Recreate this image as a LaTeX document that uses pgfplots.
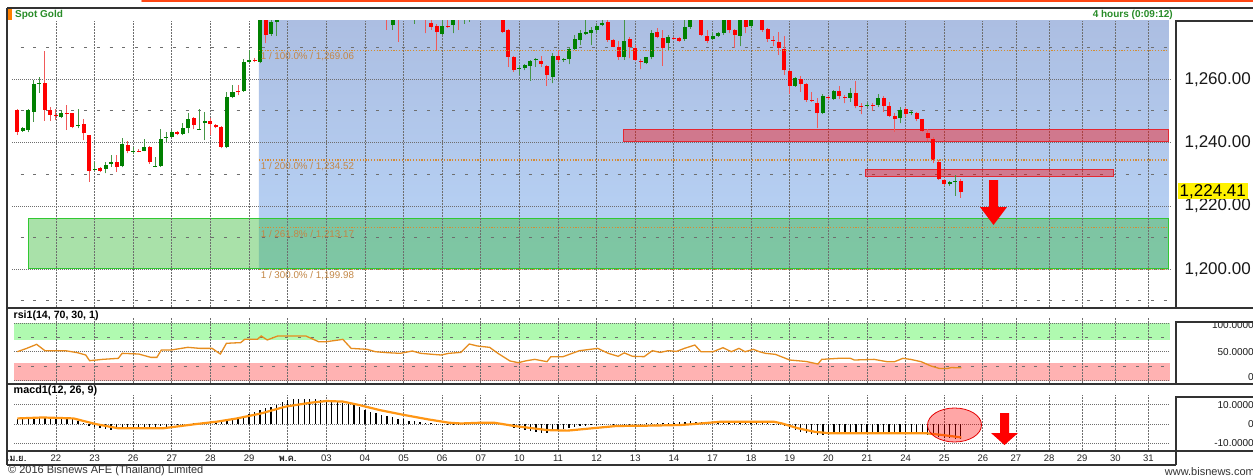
\documentclass[border=0pt]{standalone}
\usepackage{fontspec}
\setmainfont{Liberation Sans}
\newfontfamily\thaifont[Script=Thai]{Loma}
\usepackage{pgfplots}
\pgfplotsset{compat=1.18}
\usepackage{pgfplotstable}

\definecolor{candleG}{RGB}{0,128,0}
\definecolor{candleR}{RGB}{255,0,0}
\definecolor{wickG}{RGB}{70,150,70}
\definecolor{wickR}{RGB}{240,90,90}
\definecolor{blueTop}{RGB}{172,190,226}
\definecolor{blueBot}{RGB}{184,212,247}
\definecolor{zoneG}{RGB}{42,180,42}
\definecolor{zoneGline}{RGB}{50,200,50}
\definecolor{zoneRline}{RGB}{228,40,50}
\definecolor{fibC}{RGB}{214,140,50}
\definecolor{fibT}{RGB}{195,135,70}
\definecolor{rsiC}{RGB}{230,140,30}
\definecolor{sigC}{RGB}{255,150,20}
\definecolor{hdrG}{RGB}{40,140,40}
\definecolor{frameC}{RGB}{50,50,50}
\definecolor{gridC}{RGB}{110,110,110}
\definecolor{rsiGreen}{RGB}{176,250,176}
\definecolor{rsiRed}{RGB}{255,178,178}
\definecolor{topRed}{RGB}{255,70,20}

% candles: bar index, open, high, low, close
\pgfplotstableread{
i o h l c
1 1243.7 1244.8 1243.4 1244.5
2 1244.0 1250.5 1243.3 1250.3
3 1249.8 1259.8 1246.6 1258.5
4 1258.6 1260.6 1255.8 1258.9
8 1248.2 1250.3 1247.7 1249.5
11 1245.4 1250.5 1244.5 1245.7
14 1231.4 1234.0 1231.1 1231.7
16 1231.6 1234.0 1230.3 1233.0
17 1233.3 1236.1 1232.4 1234.0
19 1232.7 1241.4 1232.2 1239.6
21 1237.0 1238.5 1236.4 1237.3
23 1237.4 1241.0 1237.2 1238.6
25 1232.4 1235.4 1232.2 1232.7
26 1232.7 1244.2 1232.4 1241.0
27 1241.5 1243.5 1240.3 1241.8
28 1241.9 1244.0 1241.7 1243.4
30 1242.7 1246.3 1242.4 1244.5
31 1244.5 1249.3 1242.9 1247.4
33 1244.1 1250.5 1244.0 1244.4
34 1246.1 1249.8 1240.8 1246.7
38 1238.5 1256.1 1238.2 1254.3
39 1254.5 1258.2 1254.0 1256.1
41 1256.3 1266.3 1256.1 1265.5
42 1265.3 1269.3 1265.0 1266.1
44 1265.6 1284.5 1265.0 1283.0
46 1274.3 1280.0 1273.7 1278.2
47 1278.2 1283.0 1273.7 1281.5
48 1281.5 1286 1280 1285
49 1285 1290 1284 1289
51 1286 1292 1285 1291
52 1291 1296 1290 1295
55 1287 1292 1286 1291
56 1291 1296 1290 1294
60 1283 1287 1282 1286
62 1284 1288 1283 1287
65 1282 1286 1281 1285
68 1277.1 1281 1275.6 1280
70 1280 1284 1279 1283
72 1279.5 1283 1277.5 1282
77 1274.3 1279 1274.0 1276.9
79 1277.1 1280 1274.5 1278.8
81 1279 1281 1277.5 1280
82 1280 1282 1278.2 1281
84 1280 1284 1279 1283
87 1280 1282 1279 1281
91 1263.4 1264.5 1261.4 1263.7
92 1263.5 1264.7 1262.9 1264.5
93 1264.3 1266.1 1259.6 1265.8
94 1266.0 1266.6 1264.0 1266.3
97 1260.8 1268.2 1258.7 1267.4
99 1266.0 1266.6 1265.6 1266.3
100 1266.3 1270.3 1264.8 1269.5
101 1269.5 1274.0 1269.3 1272.6
102 1272.4 1275.4 1270.8 1274.5
103 1274.2 1279.5 1274.0 1275.0
104 1274.5 1276.6 1270.8 1275.6
105 1275.6 1277.5 1274.5 1276.8
106 1277.1 1278.6 1276.8 1277.9
110 1266.9 1279.5 1266.1 1272.2
114 1265.0 1267.1 1264.8 1266.9
115 1266.9 1275.4 1266.3 1274.7
118 1271.6 1274.0 1269.3 1273.5
121 1272.6 1279.5 1272.2 1276.4
122 1276.6 1281 1276.0 1279.5
123 1279.5 1283 1279 1282
126 1272.6 1275.0 1272.4 1273.7
127 1273.7 1275.0 1273.5 1274.7
128 1274.7 1280 1274.0 1279.5
131 1273.7 1281 1270.5 1280
133 1276.8 1280 1276.1 1279.5
141 1257.9 1260.6 1257.7 1260.3
146 1249.5 1255.4 1249.0 1254.7
148 1253.8 1256.6 1253.5 1256.4
151 1254.2 1257.4 1252.9 1255.8
154 1251.7 1252.8 1251.2 1252.0
156 1251.9 1255.4 1251.2 1254.0
160 1247.7 1251.2 1246.1 1250.3
162 1249.3 1250.0 1248.7 1249.6
169 1226.9 1228.0 1226.4 1227.7
170 1227.6 1229.8 1223.2 1227.9
}\greenC

\pgfplotstableread{
i o h l c
0 1250.3 1250.5 1242.5 1243.5
5 1258.7 1269.0 1246.9 1250.3
6 1250.3 1251.4 1246.9 1248.7
7 1248.8 1250.5 1247.1 1248.4
9 1249.4 1251.9 1244.0 1249.1
10 1249.3 1249.5 1244.5 1245.0
12 1245.9 1247.4 1240.8 1242.9
13 1242.3 1242.4 1227.7 1231.0
15 1232.1 1232.4 1230.7 1231.1
18 1233.8 1236.1 1230.8 1232.4
20 1239.3 1240.6 1236.6 1237.4
22 1237.5 1237.9 1236.9 1237.2
24 1238.7 1238.9 1233.3 1233.8
29 1243.4 1243.6 1242.4 1242.7
32 1247.8 1248.0 1244.2 1245.5
35 1246.8 1247.7 1242.4 1245.8
36 1245.6 1245.9 1244.5 1244.8
37 1245.0 1245.2 1238.2 1238.7
40 1256.2 1258.2 1255.0 1255.9
43 1266.0 1266.6 1265.3 1265.7
45 1284.0 1286.0 1271.4 1274.0
50 1289 1291 1285 1286
53 1295 1297 1290 1291
54 1291 1292 1286 1287
57 1294 1296 1289 1290
58 1290 1291 1284 1285
59 1285 1287 1282 1283
61 1286 1288 1283 1284
63 1287 1289 1284 1285
64 1285 1286 1281 1282
66 1285 1287 1282 1283
67 1283 1285 1275.6 1281
69 1282 1284 1271.9 1280
71 1283 1285 1280 1281
73 1282 1284 1279.5 1281
74 1282 1283 1274.5 1279
75 1277.9 1279 1275.6 1276.6
76 1276.8 1277.5 1269.0 1275.0
78 1276.9 1278.7 1276.3 1276.6
80 1281 1282 1275.6 1279
83 1281 1283 1279 1280
85 1283 1285 1280 1281
86 1281 1282 1279 1280
88 1281 1282 1274.7 1275.0
89 1275.6 1276.0 1264.0 1267.1
90 1267.1 1267.3 1262.4 1262.9
95 1265.8 1267.4 1264.0 1264.8
96 1264.2 1264.5 1258.0 1261.4
98 1267.4 1269.3 1265.6 1266.1
107 1278.2 1278.6 1271.9 1272.4
108 1272.4 1272.6 1270.1 1270.3
109 1270.1 1272.2 1266.1 1266.9
111 1272.6 1273.5 1266.6 1270.1
112 1269.8 1270.8 1265.8 1266.1
113 1265.7 1266.3 1263.2 1265.4
116 1275.0 1276.1 1272.9 1273.3
117 1272.9 1275.4 1264.3 1269.8
119 1273.0 1273.5 1272.4 1272.7
120 1273.1 1273.5 1271.9 1272.2
124 1280 1281 1273.8 1274.0
125 1273.7 1275.4 1271.4 1272.2
129 1280 1281 1274.5 1275.4
130 1275.4 1275.8 1270.0 1274.0
132 1281 1282 1274.5 1276.6
134 1281 1282 1279 1280
135 1280 1281 1275.0 1275.4
136 1275.8 1276.1 1271.9 1272.6
137 1272.5 1273.7 1270.5 1272.2
138 1271.9 1275.0 1267.7 1270.0
139 1269.5 1273.7 1261.4 1262.9
140 1262.7 1262.9 1255.4 1257.9
142 1260.0 1261.0 1256.1 1258.5
143 1258.5 1258.7 1252.9 1253.3
144 1253.4 1256.1 1252.9 1253.1
145 1252.6 1254.2 1244.5 1249.3
147 1254.3 1254.7 1253.3 1254.0
149 1256.3 1258.0 1253.9 1254.8
150 1254.4 1255.0 1252.4 1254.1
152 1255.6 1259.3 1250.8 1251.7
153 1251.7 1252.4 1248.9 1251.4
155 1252.0 1252.4 1250.1 1251.7
157 1254.0 1254.7 1249.8 1251.6
158 1251.6 1252.9 1248.2 1248.4
159 1248.5 1249.5 1243.5 1247.5
161 1250.6 1251.2 1248.2 1249.0
163 1249.5 1249.8 1246.8 1247.4
164 1247.4 1247.6 1243.5 1243.7
165 1242.9 1244.2 1240.6 1241.4
166 1241.2 1241.7 1233.5 1234.5
167 1234.0 1234.5 1228.2 1228.4
168 1228.2 1228.4 1226.4 1226.9
171 1227.9 1228.4 1222.6 1224.4
}\redC

\tikzset{
  hline/.style={gridC, line width=0.8pt, dash pattern=on 1pt off 1pt},
  sline/.style={gridC, line width=1pt, dash pattern=on 3pt off 9.7pt},
  vline/.style={gridC, line width=0.8pt, dash pattern=on 2pt off 1pt},
}
\pgfplotsset{
  panel/.style={
    scale only axis, width=1169pt,
    xmin=-1.87, xmax=210,
    axis line style={draw=none},
    tick style={draw=none},
    major tick length=0pt, minor tick length=0pt,
    xtick={7,14,21,28,35,42,49,56,63,70,77,84,91,98,105,112,119,126,133,140,147,154,161,168,175,181,187,193,199,205},
    xticklabels={},
  },
  wick/.style={only marks, mark=*, mark size=0pt, mark options={draw=none, fill=none}, forget plot,
    error bars/.cd, y dir=plus, y explicit, error mark=none,
    error bar style={draw=#1, line width=1pt, solid}},
  body/.style={only marks, mark=*, mark size=0pt, mark options={draw=none, fill=none}, forget plot,
    error bars/.cd, y dir=plus, y explicit, error mark=none,
    error bar style={draw=#1, line width=4pt, solid}},
}

\begin{document}
\begin{tikzpicture}[x=1pt,y=1pt]
\useasboundingbox (0,0) rectangle (1253,475);
\fill[white] (0,0) rectangle (1253,475);

% ---------------- price panel ----------------
\begin{axis}[panel, at={(7pt,168pt)}, anchor=south west, height=286pt,
  ymin=1188.1, ymax=1278.4,
  ytick={1200,1220,1240,1260}, yticklabel pos=right,
  yticklabel style={anchor=east, xshift=75pt, inner sep=0pt, text=black!90,
    font=\fontsize{17}{17}\selectfont,
    /pgf/number format/fixed, /pgf/number format/fixed zerofill,
    /pgf/number format/precision=2, /pgf/number format/1000 sep={,},
    /pgf/number format/assume math mode=true},
]
\shade[top color=blueTop, bottom color=blueBot] (axis cs:43.8,1200.0) rectangle (axis cs:208.7,1278.4);
\fill[zoneG, fill opacity=0.4] (axis cs:2,1200.1) rectangle (axis cs:208.7,1216.1);
\draw[zoneGline, line width=1pt] (axis cs:2,1200.1) rectangle (axis cs:208.7,1216.1);
\pgfplotsinvokeforeach{7,14,21,28,35,42,49,56,63,70,77,84,91,98,105,112,119,126,133,140,147,154,161,168,175,181,187,193,199,205}{\draw[vline] (axis cs:#1,1188.1) -- (axis cs:#1,1278.4);}
\pgfplotsinvokeforeach{1200,1220,1240,1260}{\draw[hline] (axis cs:-0.9,#1) -- (axis cs:209.3,#1);}
\pgfplotsinvokeforeach{1190,1210,1230,1250,1270}{\draw[sline] (axis cs:0.6,#1) -- (axis cs:209.3,#1);}
% resistance zones
\fill[red, fill opacity=0.4] (axis cs:109.8,1240.3) rectangle (axis cs:208.7,1244.0);
\draw[zoneRline, line width=1pt] (axis cs:109.8,1240.3) rectangle (axis cs:208.7,1244.0);
\fill[red, fill opacity=0.4] (axis cs:153.8,1229.2) rectangle (axis cs:198.7,1231.4);
\draw[zoneRline, line width=1pt] (axis cs:153.8,1229.2) rectangle (axis cs:198.7,1231.4);
% candles
\addplot[wick=wickG] table[x=i, y=l, y error plus expr=\thisrow{h}-\thisrow{l}] {\greenC};
\addplot[wick=wickR] table[x=i, y=l, y error plus expr=\thisrow{h}-\thisrow{l}] {\redC};
\addplot[body=candleG] table[x=i, y=o, y error plus expr=\thisrow{c}-\thisrow{o}] {\greenC};
\addplot[body=candleR] table[x=i, y=c, y error plus expr=\thisrow{o}-\thisrow{c}] {\redC};
% fibonacci levels
\pgfplotsinvokeforeach{1269.06,1234.52,1213.17,1199.98}{\draw[fibC, line width=1.2pt, dash pattern=on 1.2pt off 1.6pt] (axis cs:43.8,#1) -- (axis cs:208.7,#1);}
\node[anchor=west, text=fibT, inner sep=0pt, yshift=-6.5pt, font=\fontsize{9.8}{10}\selectfont] at (axis cs:44.1,1269.06) {1 / 100.0\% / 1,269.06};
\node[anchor=west, text=fibT, inner sep=0pt, yshift=-6.5pt, font=\fontsize{9.8}{10}\selectfont] at (axis cs:44.1,1234.52) {1 / 200.0\% / 1,234.52};
\node[anchor=west, text=fibT, inner sep=0pt, yshift=-6.5pt, font=\fontsize{9.8}{10}\selectfont] at (axis cs:44.1,1213.17) {1 / 261.8\% / 1,213.17};
\node[anchor=west, text=fibT, inner sep=0pt, yshift=-6.5pt, font=\fontsize{9.8}{10}\selectfont] at (axis cs:44.1,1199.98) {1 / 300.0\% / 1,199.98};
\end{axis}

% ---------------- RSI panel ----------------
\begin{axis}[panel, at={(7pt,92pt)}, anchor=south west, height=65pt,
  ymin=-4.3, ymax=108.5,
  ytick={5.6,50,96.4}, yticklabels={0,50.0000,100.0000}, yticklabel pos=right,
  yticklabel style={anchor=east, xshift=78pt, inner sep=0pt, text=black!90,
    font=\fontsize{10}{10}\selectfont},
]
\fill[rsiGreen] (axis cs:-0.6,70) rectangle (axis cs:208.9,100);
\fill[rsiRed] (axis cs:-0.6,0) rectangle (axis cs:208.9,30);
\pgfplotsinvokeforeach{7,14,21,28,35,42,49,56,63,70,77,84,91,98,105,112,119,126,133,140,147,154,161,168,175,181,187,193,199,205}{\draw[vline] (axis cs:#1,-4.3) -- (axis cs:#1,108.5);}
\pgfplotsinvokeforeach{0,50,100}{\draw[hline] (axis cs:-0.6,#1) -- (axis cs:208.9,#1);}
\pgfplotsinvokeforeach{25,75}{\draw[sline] (axis cs:0.2,#1) -- (axis cs:208.9,#1);}
\addplot[rsiC, line width=1.3pt, mark=none] coordinates {
(0,50)(1.7,55.8)(3.5,62.8)(5,51.8)(8.7,51.8)(10.9,48.3)(12.4,44.3)(13.1,34.4)(15.4,36.7)(18.3,38.5)(19,47.2)(22,46)(24.2,40.2)(25.3,40.2)(26.1,53)(27.9,53)(30.9,57.6)(33.1,55.8)(35.3,55.8)(36.8,46)(37.9,64.6)(40.5,65.8)(41.2,71.5)(43.5,71.5)(44.2,77.3)(45.3,70.4)(47.2,77.3)(52.3,77.3)(54.6,67.4)(56,67.4)(58.3,70.4)(59,71.5)(60.5,55.8)(63.4,54.1)(64.9,50)(67.1,48.3)(69.4,47.2)(71.6,51.2)(73.1,47.2)(75.3,45.4)(76.8,44.3)(78.2,47.2)(80.4,48.8)(81.9,63.4)(83.4,59.9)(85.6,57.6)(87.1,47.2)(89.3,33.9)(90.8,31)(92.3,34.4)(93.8,36.7)(96,32.7)(96.7,41.4)(98.9,41.4)(101.9,51.8)(105.2,55.8)(107.1,47.2)(108.9,42)(110,48)(111.5,42)(113.6,41.4)(115.1,51.8)(116.5,48.8)(118,51.8)(119.5,50.6)(120.9,55.8)(122.8,61.6)(123.9,50)(126.1,50)(127.9,57)(129.4,50)(130.8,55.8)(131.9,50)(133.4,54.1)(134.5,50)(135.6,47.2)(137.4,45.4)(140,35.6)(143,33)(145.1,28.6)(145.8,36.7)(148.8,38.5)(151,38.5)(151.7,35.6)(155.3,36.7)(157.6,32.7)(159,32.7)(160.5,38.5)(161.9,36.7)(163.8,32.7)(165.6,25.2)(167.1,21)(168.6,21)(169.3,22.5)(171.1,22)
};
\end{axis}

% ---------------- MACD panel ----------------
\begin{axis}[panel, at={(7pt,25pt)}, anchor=south west, height=55pt,
  ymin=-13.4, ymax=15.0,
  ytick={-10,0,10}, yticklabels={-10.0000,0,10.0000}, yticklabel pos=right,
  yticklabel style={anchor=east, xshift=78pt, inner sep=0pt, text=black!90,
    font=\fontsize{10}{10}\selectfont},
  xtick={-0.2,7,14,21,28,35,42,49,56,63,70,77,84,91,98,105,112,119,126,133,140,147,154,161,168,175,181,187,193,199,205},
  xticklabels={{\thaifont\bfseries เม.ย.},22,23,26,27,28,29,{\thaifont\bfseries พ.ค.},03,04,05,06,07,10,11,12,13,14,17,18,19,20,21,24,25,26,27,28,29,30,31},
  xticklabel style={anchor=base, yshift=-11pt, inner sep=0pt, text=black!85,
    font=\fontsize{9.5}{10}\selectfont},
]
\pgfplotsinvokeforeach{7,14,21,28,35,42,49,56,63,70,77,84,91,98,105,112,119,126,133,140,147,154,161,168,175,181,187,193,199,205}{\draw[vline] (axis cs:#1,-13.4) -- (axis cs:#1,15.0);}
\pgfplotsinvokeforeach{-10,0,10}{\draw[hline] (axis cs:-0.6,#1) -- (axis cs:208.9,#1);}
\addplot[ycomb, black, line width=1.3pt, mark=none] coordinates {
(0,2.8)(1,2.9)(2,3.0)(3,3.2)(4,3.4)(5,3.4)(6,3.3)(7,3.2)(8,3.1)(9,3.0)(10,2.8)(11,1.6)(12,0.6)(13,-0.8)(14,-1.6)(15,-2.2)(16,-2.8)(17,-3.1)(18,-2.7)(19,-2.5)(20,-2.4)(21,-2.3)(22,-2.0)(23,-1.7)(24,-1.6)(25,-1.5)(26,-1.2)(27,-1.3)(28,-1.2)(29,-0.5)(30,-0.3)(31,0.1)(32,0.4)(33,0.7)(34,0.9)(35,1.0)(36,1.1)(37,1.3)(38,2.0)(39,2.6)(40,3.2)(41,3.8)(42,5.0)(43,6.1)(44,7.2)(45,8.2)(46,9.0)(47,9.8)(48,11.2)(49,12.2)(50,12.8)(51,13.0)(52,13.1)(53,13.1)(54,12.9)(55,12.6)(56,12.4)(57,12.0)(58,11.6)(59,11.0)(60,10.4)(61,9.6)(62,9.0)(63,7.2)(64,6.4)(65,5.5)(66,4.8)(67,4.0)(68,3.4)(69,2.8)(70,2.4)(71,1.8)(72,1.4)(73,1.0)(74,0.8)(75,0.4)(76,0.1)(77,-0.3)(78,-0.5)(79,-0.5)(80,-0.5)(81,-0.2)(82,0.5)(83,1.1)(84,1.2)(85,1.2)(86,1.1)(87,0.8)(88,0.4)(89,-0.9)(90,-1.8)(91,-2.6)(92,-3.3)(93,-3.8)(94,-4.2)(95,-4.4)(96,-4.5)(97,-3.8)(98,-3.1)(99,-2.4)(100,-2.0)(101,-1.5)(102,-1.2)(103,-1.0)(104,-0.6)(105,-0.4)(106,-0.2)(107,0.0)(108,-0.1)(109,0.0)(110,0.1)(111,0.1)(112,0.2)(113,0.2)(114,0.3)(115,0.4)(116,0.5)(117,0.4)(118,0.5)(119,0.8)(120,1.0)(121,1.2)(122,1.4)(123,1.3)(124,1.0)(125,0.8)(126,0.7)(127,0.7)(128,0.8)(129,0.7)(130,0.7)(131,0.8)(132,0.7)(133,0.8)(134,0.8)(135,0.7)(136,0.5)(137,0.2)(138,-0.3)(139,-1.2)(140,-2.6)(141,-3.3)(142,-3.9)(143,-4.6)(144,-5.2)(145,-5.6)(146,-5.7)(147,-5.5)(148,-5.3)(149,-5.2)(150,-5.2)(151,-5.1)(152,-5.0)(153,-5.0)(154,-5.0)(155,-4.9)(156,-4.9)(157,-5.0)(158,-5.0)(159,-5.0)(160,-5.0)(161,-5.0)(162,-5.0)(163,-5.0)(164,-5.1)(165,-5.4)(166,-6.0)(167,-6.6)(168,-7.1)(169,-7.3)(170,-7.5)(171,-7.9)
};
\addplot[sigC, line width=2.2pt, mark=none] coordinates {
(0,2.9)(4.6,3.4)(10.2,2.9)(14.2,0)(18.3,-2.2)(26.4,-2.2)(32.4,0)(36.1,1.2)(39.8,2.9)(44.2,5.5)(48.6,9)(53.1,11)(56,11.9)(59,11.6)(62,9.8)(65.7,7.2)(70.1,4.7)(74.5,2.4)(78.2,0.7)(80.4,0.3)(84.2,0.7)(86.4,0.7)(90.1,-1)(96,-3.1)(99.7,-3.4)(104.1,-2.2)(108.6,-1)(115,-0.8)(120.2,-0.5)(123.9,0.3)(127.5,1.2)(137.1,1.2)(138.6,0.3)(141.5,-2.2)(144.5,-4)(147.4,-4.8)(164.9,-4.8)(167.8,-5.7)(171.1,-6.9)
};
\end{axis}

% ---------------- frames ----------------
\draw[frameC, line width=1.2pt] (7,467) -- (1253,467);
\draw[frameC, line width=1.2pt] (7,467) -- (7,10);
\draw[frameC, line width=2pt] (7,167.5) -- (1253,167.5);
\draw[frameC, line width=2pt] (7,91.5) -- (1253,91.5);
\draw[frameC, line width=2pt] (7,24.5) -- (1253,24.5);
\draw[frameC, line width=1.2pt] (7,10) -- (1176,10);
\draw[frameC, line width=1.2pt] (1176,167.5) -- (1176,454) -- (1253,454);
\draw[frameC, line width=1.2pt] (1176,91.5) -- (1176,153) -- (1253,153);
\draw[frameC, line width=1.2pt] (1176,24.5) -- (1176,78) -- (1253,78);
\draw[frameC, line width=1.2pt] (1176,24.5) -- (1176,10);

% top artifact line
\draw[topRed, line width=1.8pt, line cap=round] (142,474.2) -- (1253,474.2);

% header
\fill[orange] (7.5,454.5) rectangle (12.3,465.7);
\node[anchor=west, inner sep=0pt, text=hdrG, font=\fontsize{10}{10}\selectfont\bfseries] at (15,460.5) {Spot Gold};
\node[anchor=east, inner sep=0pt, text=hdrG, font=\fontsize{10}{10}\selectfont\bfseries] at (1173,460.5) {4 hours (0:09:12)};

% current price label
\fill[yellow] (1177.7,275.7) rectangle (1248,291.7);
\node[inner sep=0pt, font=\fontsize{17}{17}\selectfont] at (1212.8,283.7) {1,224.41};

% panel titles
\node[anchor=west, inner sep=0pt, font=\fontsize{10.6}{11}\selectfont\bfseries] at (13.5,159) {rsi1(14, 70, 30, 1)};
\node[anchor=west, inner sep=0pt, font=\fontsize{10.8}{11}\selectfont\bfseries] at (13.5,84) {macd1(12, 26, 9)};

% arrows and highlight
\fill[red] (989,295) -- (998,295) -- (998,268) -- (1007,268) -- (993.5,250) -- (980,268) -- (989,268) -- cycle;
\fill[red] (1000,62) -- (1009,62) -- (1009,42) -- (1018,42) -- (1004.5,30) -- (991,42) -- (1000,42) -- cycle;
\filldraw[fill=red, fill opacity=0.35, draw=red!90!black, line width=0.8pt] (954.5,50) ellipse (27 and 17);

% footer
\node[anchor=west, inner sep=0pt, text=black!80, font=\fontsize{11}{11}\selectfont] at (8,4.5) {© 2016 Bisnews AFE (Thailand) Limited};
\node[anchor=east, inner sep=0pt, text=black!80, font=\fontsize{11}{11}\selectfont] at (1255,3) {www.bisnews.com};
\end{tikzpicture}
\end{document}
